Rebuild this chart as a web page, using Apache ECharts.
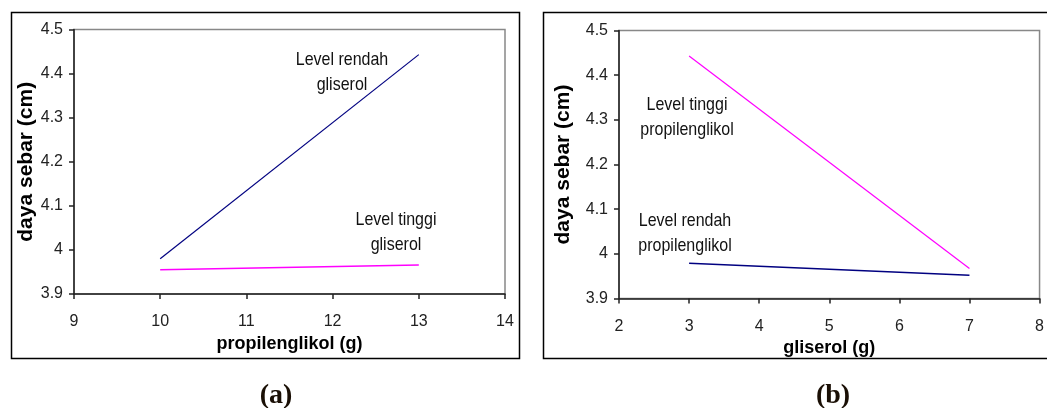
<!DOCTYPE html>
<html>
<head>
<meta charset="utf-8">
<script src="https://cdn.jsdelivr.net/npm/echarts@6/dist/echarts.min.js"></script>
<style>
html,body{margin:0;padding:0;background:#fff;}
#c{width:1047px;height:408px;}
</style>
</head>
<body>
<div id="c"></div>
<script>
// Chart (a): x = propilenglikol (g)
const xA = [10, 13];
const lowGliserol = [3.98, 4.443];
const highGliserol = [3.955, 3.966];
// Chart (b): x = gliserol (g)
const xB = [3, 7];
const lowProp = [3.979, 3.952];
const highProp = [4.443, 3.967];

const yTitle = 'daya sebar (cm)';
const xTitleA = 'propilenglikol (g)';
const xTitleB = 'gliserol (g)';
const FONT = 'Liberation Sans, Arial, sans-serif';

const chart = echarts.init(document.getElementById('c'), null, {renderer: 'canvas'});

function xAxisCfg(grid, min, max, name, gap) {
  return {
    type: 'value', gridIndex: grid, min: min, max: max, interval: 1,
    name: name, nameLocation: 'middle', nameGap: gap,
    nameTextStyle: {fontFamily: FONT, fontSize: 18, fontWeight: 'bold', color: '#000'},
    axisLine: {show: true, onZero: false, lineStyle: {color: '#222', width: 1.5}},
    axisTick: {show: true, inside: false, length: 5, lineStyle: {color: '#222', width: 1.5}},
    axisLabel: {fontFamily: FONT, fontSize: 16, color: '#222', margin: 20},
    splitLine: {show: false}
  };
}
function yAxisCfg(grid, gap) {
  return {
    type: 'value', gridIndex: grid, min: 3.9, max: 4.5, interval: 0.1,
    name: yTitle, nameLocation: 'middle', nameGap: gap, nameRotate: 90,
    nameTextStyle: {fontFamily: FONT, fontSize: 21, fontWeight: 'bold', color: '#000'},
    axisLine: {show: true, onZero: false, lineStyle: {color: '#222', width: 1.5}},
    axisTick: {show: true, inside: false, length: 5, lineStyle: {color: '#222', width: 1.5}},
    axisLabel: {fontFamily: FONT, fontSize: 16, color: '#222', margin: 11,
      formatter: function (v) { return String(Math.round(v * 10) / 10); }},
    splitLine: {show: false}
  };
}
function pairs(xs, ys) { return xs.map((x, i) => [x, ys[i]]); }

const annoFont = '16px ' + FONT;
function anno(text, x, y) {
  return {type: 'text', z: 100, x: x, y: y, scaleY: 1.2,
    style: {text: text, x: 0, y: 0, textAlign: 'center', textVerticalAlign: 'middle',
      font: annoFont, fill: '#111', lineHeight: 21}};
}

chart.setOption({
  animation: false,
  backgroundColor: '#fff',
  grid: [
    {left: 74, right: 1047 - 505, top: 29.5, bottom: 408 - 294, show: true, borderColor: '#888', borderWidth: 1.5, containLabel: false},
    {left: 619, right: 1047 - 1041, top: 30.5, bottom: 408 - 298.5, show: true, borderColor: '#888', borderWidth: 1.5, containLabel: false}
  ],
  xAxis: [xAxisCfg(0, 9, 14, xTitleA, 37), xAxisCfg(1, 2, 8, xTitleB, 32)],
  yAxis: [yAxisCfg(0, 35), yAxisCfg(1, 45)],
  series: [
    {name: 'Level rendah gliserol', type: 'line', xAxisIndex: 0, yAxisIndex: 0, data: pairs(xA, lowGliserol),
      symbol: 'none', lineStyle: {color: '#000080', width: 1.2}},
    {name: 'Level tinggi gliserol', type: 'line', xAxisIndex: 0, yAxisIndex: 0, data: pairs(xA, highGliserol),
      symbol: 'none', lineStyle: {color: '#ff00ff', width: 1.5}},
    {name: 'Level rendah propilenglikol', type: 'line', xAxisIndex: 1, yAxisIndex: 1, data: pairs(xB, lowProp),
      symbol: 'none', lineStyle: {color: '#000080', width: 1.5}},
    {name: 'Level tinggi propilenglikol', type: 'line', xAxisIndex: 1, yAxisIndex: 1, data: pairs(xB, highProp),
      symbol: 'none', lineStyle: {color: '#ff00ff', width: 1.2}}
  ],
  graphic: [
    {type: 'rect', z: 0, shape: {x: 11.5, y: 12.5, width: 508, height: 346}, style: {fill: 'none', stroke: '#000', lineWidth: 1.5}},
    {type: 'rect', z: 0, shape: {x: 543.5, y: 12.5, width: 520, height: 346}, style: {fill: 'none', stroke: '#000', lineWidth: 1.5}},
    anno('Level rendah\ngliserol', 342, 72),
    anno('Level tinggi\ngliserol', 396, 232),
    anno('Level tinggi\npropilenglikol', 687, 117),
    anno('Level rendah\npropilenglikol', 685, 233),
    {type: 'text', style: {text: '(a)', x: 276, y: 396, textAlign: 'center', textVerticalAlign: 'middle',
      font: 'bold 28px "Liberation Serif", "Times New Roman", serif', fill: '#1a0f05'}},
    {type: 'text', style: {text: '(b)', x: 833, y: 396, textAlign: 'center', textVerticalAlign: 'middle',
      font: 'bold 28px "Liberation Serif", "Times New Roman", serif', fill: '#1a0f05'}}
  ]
});
</script>
</body>
</html>
